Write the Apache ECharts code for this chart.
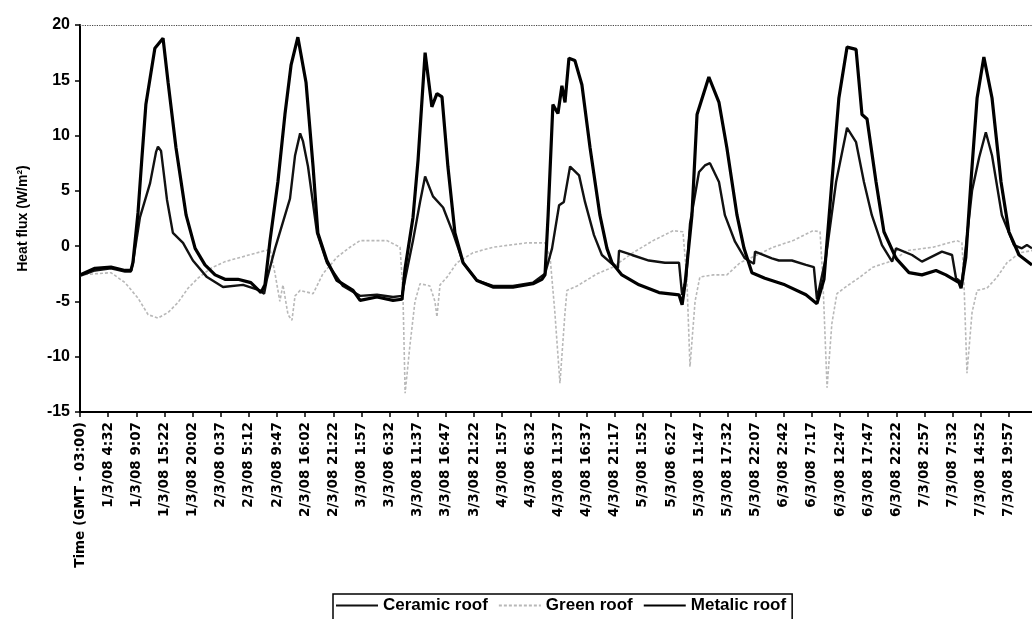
<!DOCTYPE html>
<html>
<head>
<meta charset="utf-8">
<script src="https://cdn.jsdelivr.net/npm/echarts@6.0.0/dist/echarts.min.js"></script>
<style>
  html, body { margin: 0; padding: 0; background: #fff; }
  #chart { width: 1032px; height: 619px; }
</style>
</head>
<body>
<div id="chart"></div>
<script>
// tick labels of the category-like time axis (position = index)
var timeLabels = ['Time (GMT - 03:00)',
  '1/3/08 4:32', '1/3/08 9:07', '1/3/08 15:22', '1/3/08 20:02',
  '2/3/08 0:37', '2/3/08 5:12', '2/3/08 9:47', '2/3/08 16:02', '2/3/08 21:22',
  '3/3/08 1:57', '3/3/08 6:32', '3/3/08 11:37', '3/3/08 16:47', '3/3/08 21:22',
  '4/3/08 1:57', '4/3/08 6:32', '4/3/08 11:37', '4/3/08 16:37', '4/3/08 21:17',
  '5/3/08 1:52', '5/3/08 6:27', '5/3/08 11:47', '5/3/08 17:32', '5/3/08 22:07',
  '6/3/08 2:42', '6/3/08 7:17', '6/3/08 12:47', '6/3/08 17:47', '6/3/08 22:22',
  '7/3/08 2:57', '7/3/08 7:32', '7/3/08 14:52', '7/3/08 19:57'];

var yTicks = [-15, -10, -5, 0, 5, 10, 15, 20];

// [position on time axis, heat flux W/m2]
var ceramicRoof = [
  [0,-2.7],[0.53,-2.2],[1.10,-2.0],[1.60,-2.3],[1.81,-2.3],[1.88,-1.5],[2.13,2.6],[2.49,5.7],[2.70,8.5],[2.77,9.0],
  [2.88,8.6],[3.09,4.2],[3.30,1.2],[3.66,0.3],[4.01,-1.3],[4.51,-2.8],[5.08,-3.7],[5.79,-3.5],[6.39,-4.0],[6.54,-4.3],
  [6.64,-3.0],[6.93,-0.2],[7.46,4.3],[7.64,8.2],[7.82,10.2],[7.92,9.5],[8.10,7.2],[8.42,1.2],[8.77,-1.5],[9.34,-3.6],
  [9.95,-4.5],[10.55,-4.4],[11.12,-4.6],[11.44,-4.5],[11.55,-3.0],[11.83,0.5],[12.08,4.0],[12.26,6.3],[12.54,4.5],[12.90,3.5],
  [13.25,1.2],[13.61,-1.5],[14.10,-3.1],[14.67,-3.6],[15.38,-3.6],[16.09,-3.3],[16.52,-2.5],[16.77,-0.2],[17.02,3.7],[17.19,4.0],
  [17.41,7.2],[17.73,6.4],[17.94,4.0],[18.26,1.0],[18.54,-0.8],[18.90,-1.6],[19.11,-2.0],[19.15,-0.4],[19.61,-0.8],[20.21,-1.3],
  [20.78,-1.5],[21.28,-1.5],[21.39,-4.4],[21.53,-3.0],[21.67,2.0],[21.99,6.7],[22.20,7.3],[22.38,7.5],[22.70,5.8],[22.91,2.8],
  [23.27,0.4],[23.62,-1.1],[23.94,-1.6],[23.98,-0.5],[24.58,-1.1],[24.83,-1.3],[25.29,-1.3],[25.79,-1.7],[26.07,-1.9],[26.18,-4.8],
  [26.50,-1.0],[26.86,5.8],[27.25,10.7],[27.57,9.4],[27.85,5.8],[28.13,2.8],[28.49,0.1],[28.85,-1.4],[28.99,-0.2],[29.56,-0.8],
  [29.91,-1.4],[30.62,-0.5],[30.98,-0.8],[31.12,-2.9],[31.33,-3.3],[31.69,5.0],[31.94,8.0],[32.18,10.3],[32.40,8.2],[32.75,2.8],
  [33.18,0.1],[33.46,-0.2],[33.64,0.1],[33.82,-0.2]
];

var greenRoof = [
  [0,-2.6],[1.10,-2.4],[1.60,-3.3],[2.06,-4.7],[2.42,-6.2],[2.77,-6.5],[3.13,-6.0],[3.48,-5.1],[3.84,-3.8],[4.19,-2.9],
  [4.65,-2.0],[5.15,-1.4],[5.72,-1.0],[6.43,-0.5],[6.75,-0.3],[6.93,-2.5],[7.10,-5.0],[7.21,-3.5],[7.39,-6.2],[7.53,-6.7],
  [7.64,-4.5],[7.82,-4.0],[8.28,-4.3],[8.63,-2.5],[9.13,-1.0],[9.59,-0.1],[9.95,0.5],[10.91,0.5],[11.37,-0.1],[11.47,-4.0],
  [11.55,-13.3],[11.72,-9.0],[11.90,-5.0],[12.08,-3.4],[12.43,-3.6],[12.61,-5.0],[12.68,-6.4],[12.79,-3.5],[13.04,-2.8],[13.39,-1.5],
  [13.96,-0.6],[14.67,-0.1],[15.88,0.3],[16.52,0.3],[16.70,-1.0],[16.87,-6.0],[17.05,-12.4],[17.23,-6.0],[17.30,-4.0],[17.66,-3.6],
  [18.37,-2.5],[18.93,-1.9],[19.64,-0.6],[20.36,0.5],[21.07,1.4],[21.42,1.3],[21.56,-3.0],[21.67,-10.9],[21.85,-5.0],[22.02,-2.8],
  [22.49,-2.6],[22.98,-2.6],[23.45,-1.5],[24.05,-0.8],[24.62,-0.1],[25.33,0.5],[26.04,1.4],[26.29,1.3],[26.39,-3.0],[26.54,-12.8],
  [26.71,-7.0],[26.89,-4.3],[27.25,-3.6],[27.71,-2.8],[28.17,-1.9],[28.88,-1.3],[29.38,-0.4],[30.30,-0.1],[31.15,0.5],[31.33,0.3],
  [31.40,-3.0],[31.51,-11.5],[31.69,-6.0],[31.87,-4.0],[32.22,-3.8],[32.58,-2.8],[32.93,-1.5],[33.39,-0.6],[33.82,-0.4]
];

var metalicRoof = [
  [0,-2.6],[0.53,-2.0],[1.10,-1.9],[1.60,-2.2],[1.81,-2.2],[1.88,-1.5],[2.06,3.0],[2.20,8.0],[2.34,12.8],[2.66,17.9],
  [2.95,18.8],[3.13,14.8],[3.41,8.9],[3.77,2.8],[4.09,-0.2],[4.44,-1.7],[4.80,-2.6],[5.15,-3.0],[5.61,-3.0],[6.07,-3.3],
  [6.43,-4.2],[6.57,-3.5],[6.75,0.5],[7.03,5.8],[7.28,11.9],[7.50,16.4],[7.74,18.9],[8.03,14.8],[8.28,7.2],[8.45,1.2],
  [8.77,-1.3],[9.13,-3.1],[9.70,-4.0],[9.95,-4.9],[10.55,-4.6],[11.12,-4.9],[11.44,-4.8],[11.55,-2.0],[11.83,2.6],[12.01,7.8],
  [12.26,17.5],[12.50,12.6],[12.68,13.8],[12.86,13.5],[13.07,7.2],[13.32,1.2],[13.61,-1.5],[14.10,-3.1],[14.67,-3.7],[15.38,-3.7],
  [16.09,-3.4],[16.41,-3.0],[16.52,-2.6],[16.63,2.8],[16.80,12.8],[16.98,12.0],[17.12,14.5],[17.23,13.0],[17.37,17.0],[17.58,16.8],
  [17.83,14.6],[18.12,8.9],[18.47,2.8],[18.72,-0.2],[18.90,-1.5],[19.25,-2.6],[19.86,-3.5],[20.57,-4.2],[21.28,-4.4],[21.39,-5.3],
  [21.49,-3.5],[21.74,2.8],[21.92,11.9],[22.34,15.3],[22.70,13.0],[22.98,8.9],[23.34,2.8],[23.59,-0.2],[23.87,-2.4],[24.33,-2.9],
  [25.04,-3.5],[25.79,-4.4],[26.18,-5.2],[26.43,-3.0],[26.71,5.8],[26.96,13.4],[27.25,18.0],[27.57,17.8],[27.78,11.9],[27.96,11.5],
  [28.28,5.8],[28.56,1.3],[28.99,-1.1],[29.45,-2.4],[29.91,-2.6],[30.41,-2.2],[30.76,-2.6],[31.23,-3.3],[31.30,-3.8],[31.47,-1.0],
  [31.65,5.8],[31.87,13.4],[32.11,17.1],[32.40,13.4],[32.72,5.8],[33.00,1.3],[33.36,-0.8],[33.82,-1.7]
];

var chart = echarts.init(document.getElementById('chart'));

var option = {
  backgroundColor: '#fff',
  animation: false,
  grid: { left: 80, top: 25, height: 387, right: 0 },
  legend: {
    left: 333,
    top: 594,
    itemWidth: 42,
    itemHeight: 12,
    itemGap: 10,
    padding: [3, 6, 6, 2],
    borderColor: '#000',
    borderWidth: 1.5,
    itemStyle: { opacity: 0 },
    textStyle: { fontFamily: 'Liberation Sans', fontWeight: 'bold', fontSize: 17, color: '#000' },
    data: ['Ceramic roof', 'Green roof', 'Metalic roof']
  },
  xAxis: {
    type: 'value',
    min: 0,
    max: 33.82,
    interval: 1,
    axisLine: { onZero: false, lineStyle: { color: '#000', width: 2 } },
    axisTick: { show: true, length: 5, lineStyle: { color: '#000', width: 1.5 } },
    splitLine: { show: false },
    axisLabel: {
      rotate: 90,
      margin: 10,
      fontFamily: 'DejaVu Sans',
      fontWeight: 'bold',
      fontSize: 13.5,
      color: '#000',
      showMaxLabel: false,
      formatter: function (v) {
        var i = Math.round(v);
        return Math.abs(v - i) < 1e-6 && timeLabels[i] !== undefined ? timeLabels[i] : '';
      }
    }
  },
  yAxis: {
    type: 'value',
    min: yTicks[0],
    max: yTicks[yTicks.length - 1],
    interval: 5,
    name: 'Heat flux (W/m²)',
    nameLocation: 'middle',
    nameGap: 50,
    nameTextStyle: { fontFamily: 'Liberation Sans', fontWeight: 'bold', fontSize: 14, color: '#000' },
    axisLine: { show: true, lineStyle: { color: '#000', width: 2 } },
    axisTick: { show: true, length: 5, lineStyle: { color: '#000', width: 1.5 } },
    splitLine: { show: false },
    axisLabel: {
      margin: 10,
      fontFamily: 'Liberation Sans',
      fontWeight: 'bold',
      fontSize: 16,
      color: '#000'
    }
  },
  series: [
    {
      name: 'Green roof',
      type: 'line',
      data: greenRoof,
      symbol: 'none',
      color: '#b8b8b8',
      lineStyle: { color: '#b8b8b8', width: 1.6, type: [3, 2] },
      z: 1
    },
    {
      name: 'Ceramic roof',
      type: 'line',
      data: ceramicRoof,
      symbol: 'none',
      color: '#111',
      lineStyle: { color: '#111', width: 2.4 },
      z: 2
    },
    {
      name: 'Metalic roof',
      type: 'line',
      data: metalicRoof,
      symbol: 'none',
      color: '#000',
      lineStyle: { color: '#000', width: 3.2 },
      z: 3,
      markLine: {
        silent: true,
        symbol: 'none',
        label: { show: false },
        lineStyle: { color: '#444', width: 1.2, type: 'dotted' },
        data: [{ yAxis: 20 }]
      }
    }
  ]
};

chart.setOption(option);
</script>
</body>
</html>
